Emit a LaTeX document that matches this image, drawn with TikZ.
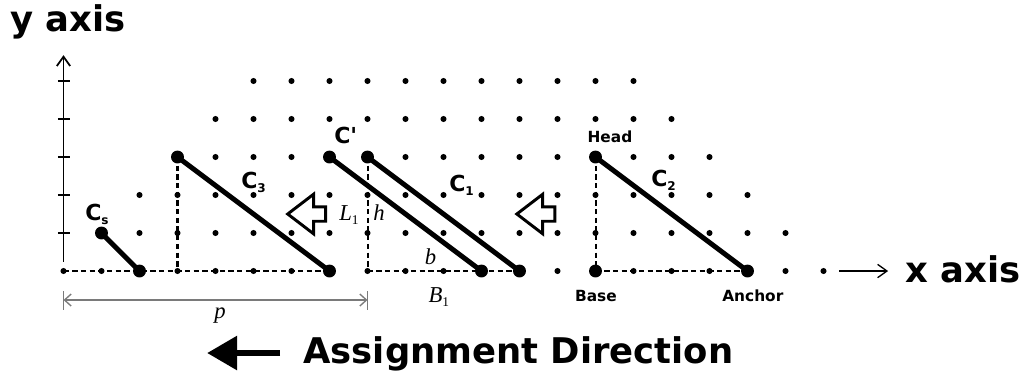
\documentclass[tikz,border=0pt]{standalone}
\usepackage{fontspec}
\setsansfont{DejaVu Sans}
\newfontfamily\serifitalic{Liberation Serif}
\usepackage{tikz}
\usetikzlibrary{arrows.meta,calc,positioning}
\definecolor{measuregray}{HTML}{7A7A7A}
\newcommand{\subtext}[1]{\raisebox{-3pt}{\fontsize{9}{9}\selectfont#1}}
\newcommand{\mathsub}[1]{\raisebox{-3pt}{\fontsize{10}{10}\selectfont\upshape#1}}
\tikzset{
  griddot/.style={fill=black,radius=0.08},
  bigdot/.style={fill=black,radius=0.17},
  segment/.style={line width=3.7pt},
  guide/.style={line width=1.5pt,dash pattern=on 4pt off 2.5pt},
  axisline/.style={line width=1.3pt,-{Straight Barb[length=7pt,width=10pt]}},
  tick/.style={line width=1.1pt},
  measure/.style={measuregray,line width=1pt},
  measurearrow/.style={measure,{Straight Barb[length=5pt,width=9pt]}-{Straight Barb[length=5pt,width=9pt]}},
  bigarrow/.style={line width=4.5pt,-{Triangle[length=0.79cm,width=0.87cm]}},
  blockarrow/.style={draw=black,fill=white,line width=2.2pt,line join=miter},
  biglabel/.style={inner sep=0pt,font=\sffamily\bfseries\fontsize{26.5}{26.5}\selectfont},
  clabel/.style={anchor=base west,inner sep=0pt,font=\sffamily\bfseries\fontsize{16.5}{16.5}\selectfont},
  smalllabel/.style={anchor=base,inner sep=0pt,font=\sffamily\bfseries\fontsize{11.5}{11.5}\selectfont},
  mathlabel/.style={anchor=base west,inner sep=0pt,font=\serifitalic\itshape\fontsize{17}{17}\selectfont},
  hollowarrow/.pic={
    \draw[blockarrow] (0,0) -- (0.68,0.52) -- (0.68,0.19) -- (1.0,0.19)
      -- (1.0,-0.19) -- (0.68,-0.19) -- (0.68,-0.52) -- cycle;
  }
}

\begin{document}
\begin{tikzpicture}[x=1cm,y=1cm]
  \useasboundingbox (-1.671,-2.895) rectangle (25.25,7.132);
  % end points of the segments
  \coordinate (cs-head) at (1,1);
  \coordinate (cs-anchor) at (2,0);
  \coordinate (c3-head) at (3,3);
  \coordinate (c3-base) at (3,0);
  \coordinate (c3-anchor) at (7,0);
  \coordinate (cp-head) at (7,3);
  \coordinate (cp-anchor) at (11,0);
  \coordinate (c1-head) at (8,3);
  \coordinate (c1-base) at (8,0);
  \coordinate (c1-anchor) at (12,0);
  \coordinate (c2-head) at (14,3);
  \coordinate (c2-base) at (14,0);
  \coordinate (c2-anchor) at (18,0);
  \coordinate (origin) at (0,0);
  % dashed bases and heights
  \draw[guide] (origin) -- (c3-anchor);
  \draw[guide] (c3-head) -- (c3-base);
  \draw[guide] (c1-base) -- (c1-anchor);
  \draw[guide] (c1-head) -- (c1-base);
  \draw[guide] (c2-base) -- (c2-anchor);
  \draw[guide] (c2-head) -- (c2-base);
  % lattice points
  \foreach \j in {0,...,5}{
    \pgfmathtruncatemacro{\last}{20-\j}
    \foreach \i in {\j,...,\last}
      \fill[griddot] (\i,\j) circle;
  }
  % segments
  \draw[segment] (cs-head) -- (cs-anchor);
  \draw[segment] (c3-head) -- (c3-anchor);
  \draw[segment] (cp-head) -- (cp-anchor);
  \draw[segment] (c1-head) -- (c1-anchor);
  \draw[segment] (c2-head) -- (c2-anchor);
  \foreach \p in {cs-head,cs-anchor,c3-head,c3-anchor,cp-head,cp-anchor,c1-head,c1-anchor,c2-head,c2-base,c2-anchor}
    \fill[bigdot] (\p) circle;
  % axes
  \coordinate (yaxis-start) at (0,0.24);
  \coordinate (yaxis-end) at (0,5.68);
  \draw[axisline] (yaxis-start) -- (yaxis-end);
  \foreach \j in {1,...,5}
    \draw[tick] (-0.15,\j) -- (0.17,\j);
  \node[biglabel,anchor=base] (ylabel) at (0.12,6.29) {y axis};
  \node[biglabel,anchor=base west] (xlabel) at (22.15,-0.29) {x axis};
  \coordinate (xarrow-start) at (20.41,0);
  \coordinate (xarrow-end) at (21.70,0);
  \draw[axisline,line width=1pt] (xarrow-start) -- (xarrow-end);
  % labels
  \node[clabel] (cs-label) at (0.566,1.342) {C\subtext{s}};
  \node[clabel] (c3-label) at (4.671,2.184) {C\subtext{3}};
  \node[clabel] (cp-label) at (7.118,3.368) {C\textquotesingle};
  \node[clabel] (c1-label) at (10.145,2.105) {C\subtext{1}};
  \node[clabel] (c2-label) at (15.46,2.237) {C\subtext{2}};
  \node[smalllabel] (head-label) at (14.38,3.395) {Head};
  \node[smalllabel] (base-label) at (14.01,-0.789) {Base};
  \node[smalllabel] (anchor-label) at (18.14,-0.789) {Anchor};
  \node[mathlabel] (l1-label) at (7.25,1.342) {L\mathsub{1}};
  \node[mathlabel] (h-label) at (8.15,1.342) {h};
  \node[mathlabel] (b-label) at (9.5,0.184) {b};
  \node[mathlabel] (b1-label) at (9.6,-0.83) {B\mathsub{1}};
  % shift arrows
  \pic at (5.9,1.5) {hollowarrow};
  \pic at (11.93,1.5) {hollowarrow};
  % period p
  \coordinate (p-left) at (0,-0.763);
  \coordinate (p-right) at (8,-0.763);
  \draw[measure] (0,-0.526) -- (0,-1.026);
  \draw[measure] (8,-0.526) -- (8,-1.026);
  \draw[measurearrow] (p-left) -- (p-right);
  \node[mathlabel,anchor=base] (p-label) at (4.12,-1.237) {p};
  % assignment direction
  \node[biglabel,anchor=base] (assign-label) at (11.97,-2.421) {Assignment Direction};
  \coordinate (assign-tail) at (5.70,-2.158);
  \coordinate (assign-tip) at (3.78,-2.158);
  \draw[bigarrow] (assign-tail) -- (assign-tip);
\end{tikzpicture}
\end{document}
